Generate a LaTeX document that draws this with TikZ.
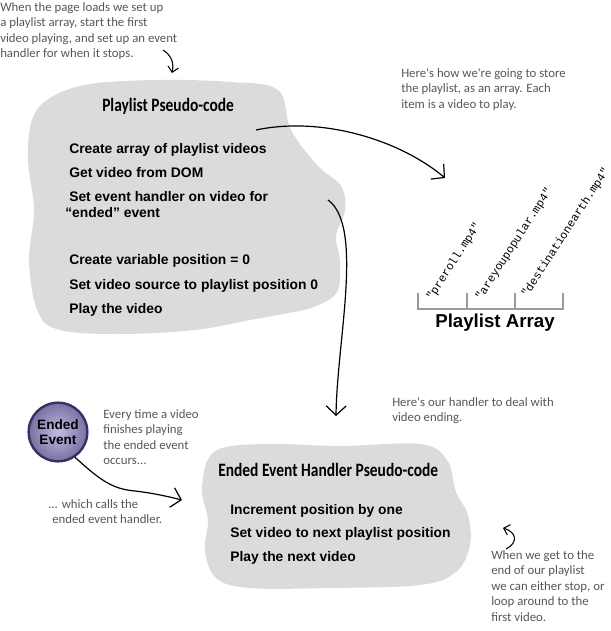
\documentclass[tikz,border=0pt]{standalone}
\usepackage{fontspec}
\setmainfont{Liberation Sans}
\newfontfamily\handfont{Carlito}
\newfontfamily\codefont{Liberation Mono}
\usepackage{xcolor}
\usetikzlibrary{arrows.meta}

\definecolor{blobgray}{HTML}{DBDBDB}
\definecolor{notegray}{HTML}{575757}
\definecolor{ballrim}{HTML}{3A3060}
\definecolor{ballin}{HTML}{C4BCDF}
\definecolor{ballout}{HTML}{7A6FA3}
\definecolor{tickgray}{HTML}{9A9A9A}

\newcommand\tallhead[1]{\scalebox{1}[1.22]{#1}}

\tikzset{
  blob/.style={fill=blobgray, draw=none},
  note/.style={font=\handfont\fontsize{9.6}{11.6}\selectfont, text=notegray,
    align=left, anchor=north west, inner sep=0pt},
  heading/.style={font=\handfont\bfseries\fontsize{11.6}{13}\selectfont,
    anchor=base west, inner sep=0pt},
  codeline/.style={font=\bfseries\fontsize{10.4}{12}\selectfont,
    anchor=base west, inner sep=0pt},
  mpfour/.style={font=\codefont\fontsize{8.6}{10}\selectfont, rotate=57,
    anchor=base west, inner sep=0pt},
  pen/.style={line width=0.9pt, -{Straight Barb[length=7pt,width=15pt]}},
  smallpen/.style={line width=0.8pt, -{Straight Barb[length=4pt,width=8pt]}},
  eventball/.style={circle, minimum size=44pt, inner sep=0pt, draw=ballrim,
    line width=1.8pt, inner color=ballin, outer color=ballout, align=center,
    font=\bfseries\fontsize{10.2}{11}\selectfont},
}

\begin{document}
\begin{tikzpicture}[x=0.75pt,y=-0.75pt]
  \useasboundingbox (0,0) rectangle (610,631);

  % the two pseudo-code clouds
  \fill[blob] plot[smooth cycle, tension=0.6] coordinates {
    (50,98) (90,84) (160,80) (230,82) (278,90) (291,130) (318,166) (341,186)
    (345,210) (336,236) (340,262) (337,292) (314,307) (283,314) (250,320)
    (195,330) (120,334) (60,330) (38,312) (29,262) (34,210) (28,160) (32,120)};
  \fill[blob] plot[smooth cycle, tension=0.6] coordinates {
    (214,452) (262,444) (340,446) (420,444) (447,460) (456,492) (468,515)
    (470,545) (456,572) (420,585) (330,588) (250,588) (216,578) (205,550)
    (208,520) (202,488)};

  % notes
  \node[note] (loadnote) at (0,2) {When the page loads we set up\\a playlist array, start the first\\video playing, and set up an event\\handler for when it stops.};
  \node[note] (arraynote) at (401,68) {Here's how we're going to store\\the playlist, as an array. Each\\item is a video to play.};
  \node[note] (everynote) at (103,409) {Every time a video\\finishes playing\\the ended event\\occurs...};
  \node[note] (callsnote) at (48,499) {... which calls the\\\hspace*{3pt}ended event handler.};
  \node[note] (handlernote) at (392,397) {Here's our handler to deal with\\video ending.};
  \node[note] (loopnote) at (491,550) {When we get to the\\end of our playlist\\we can either stop, or\\loop around to the\\first video.};

  % playlist pseudo-code
  \node[heading] (playtitle) at (102,112) {\tallhead{Playlist Pseudo-code}};
  \node[codeline] (create) at (69,154) {Create array of playlist videos};
  \node[codeline] (getvid) at (69,177) {Get video from DOM};
  \node[codeline] (sethandler) at (69,201) {Set event handler on video for};
  \node[codeline] (endedev) at (65,217) {“ended” event};
  \node[codeline] (makepos) at (69,264) {Create variable position = 0};
  \node[codeline] (setsrc) at (69,289) {Set video source to playlist position 0};
  \node[codeline] (playvid) at (69,313) {Play the video};

  % ended event handler pseudo-code
  \node[heading] (handtitle) at (218,476) {\tallhead{Ended Event Handler Pseudo-code}};
  \node[codeline] (incpos) at (230,514) {Increment position by one};
  \node[codeline] (nextpos) at (230,537) {Set video to next playlist position};
  \node[codeline] (playnext) at (230,561) {Play the next video};

  % playlist array
  \draw[tickgray, line width=1pt] (418,293) -- (418,309) -- (563,309) -- (563,293);
  \draw[tickgray, line width=1pt] (467,293) -- (467,309);
  \draw[tickgray, line width=1pt] (515,293) -- (515,309);
  \node[mpfour] (clip1) at (432,301) {"preroll.mp4"};
  \node[mpfour] (clip2) at (481,301) {"areyoupopular.mp4"};
  \node[mpfour] (clip3) at (527,298) {"destinationearth.mp4"};
  \node[font=\bfseries\fontsize{14}{16}\selectfont, inner sep=0pt] (arraylabel) at (495,323) {Playlist Array};

  % the ended event
  \node[eventball] (ended) at (58,432) {Ended\\Event};

  % arrows
  \coordinate (loadtail) at (163,50);
  \coordinate (loadtip) at (172,73);
  \draw[smallpen] (loadtail) .. controls (172,56) and (174,63) .. (loadtip);

  \coordinate (arraytail) at (256,130);
  \coordinate (arraytip) at (445,178);
  \draw[pen] (arraytail) .. controls (322,116) and (400,140) .. (arraytip);

  \coordinate (handtail) at (328,200);
  \coordinate (handtip) at (336,416);
  \draw[pen] (handtail) .. controls (364,226) and (337,340) .. (handtip);

  \coordinate (calltip) at (182,500);
  \draw[pen] (ended.-56) .. controls (100,480) and (112,489) .. (135,491)
    .. controls (152,493) and (166,496) .. (calltip);

  \coordinate (looptail) at (506,549);
  \coordinate (looptip) at (503,528);
  \draw[smallpen] (looptail) .. controls (519,542) and (516,532) .. (looptip);
\end{tikzpicture}
\end{document}
